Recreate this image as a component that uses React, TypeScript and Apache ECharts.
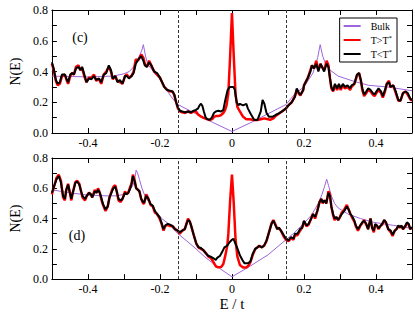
import React, { useEffect, useRef } from "react";
import * as echarts from "echarts";

// ---- Panel (c) data: [E, N(E)] ----
const bulkTop: number[][] = [
  [-0.5, 0.37], [-0.4, 0.365], [-0.33, 0.37], [-0.3, 0.385], [-0.285, 0.4], [-0.275, 0.425],
  [-0.265, 0.46], [-0.257, 0.5], [-0.25, 0.54], [-0.246, 0.575], [-0.24, 0.5], [-0.234, 0.45],
  [-0.225, 0.42], [-0.215, 0.39], [-0.2, 0.35], [-0.19, 0.31], [-0.18, 0.275], [-0.17, 0.24],
  [-0.16, 0.21], [-0.15, 0.185], [-0.125, 0.155], [-0.1, 0.125], [-0.05, 0.065], [0, 0.01],
  [0.05, 0.065], [0.1, 0.125], [0.15, 0.185], [0.175, 0.255], [0.2, 0.3], [0.225, 0.39],
  [0.238, 0.49], [0.245, 0.575], [0.252, 0.5], [0.26, 0.45], [0.272, 0.41], [0.295, 0.37],
  [0.34, 0.335], [0.38, 0.31], [0.43, 0.3], [0.5, 0.275],
];

const blackTop: number[][] = [
  [-0.5, 0.46], [-0.495, 0.42], [-0.489, 0.345], [-0.484, 0.32], [-0.478, 0.33], [-0.472, 0.38],
  [-0.464, 0.38], [-0.46, 0.355], [-0.455, 0.33], [-0.449, 0.38], [-0.444, 0.39], [-0.439, 0.38],
  [-0.433, 0.42], [-0.426, 0.43], [-0.421, 0.41], [-0.416, 0.43], [-0.41, 0.38], [-0.404, 0.33],
  [-0.397, 0.355], [-0.39, 0.35], [-0.383, 0.37], [-0.377, 0.345], [-0.369, 0.355], [-0.363, 0.33],
  [-0.356, 0.38], [-0.349, 0.39], [-0.342, 0.44], [-0.336, 0.41], [-0.331, 0.355], [-0.324, 0.37],
  [-0.318, 0.33], [-0.311, 0.345], [-0.304, 0.32], [-0.297, 0.37], [-0.292, 0.37], [-0.286, 0.355],
  [-0.279, 0.37], [-0.273, 0.39], [-0.267, 0.45], [-0.261, 0.475], [-0.252, 0.5], [-0.246, 0.47],
  [-0.242, 0.44], [-0.236, 0.43], [-0.23, 0.46], [-0.224, 0.44], [-0.216, 0.4], [-0.208, 0.39],
  [-0.2, 0.36], [-0.194, 0.33], [-0.188, 0.3], [-0.18, 0.28], [-0.172, 0.275], [-0.165, 0.27],
  [-0.16, 0.25], [-0.155, 0.2], [-0.15, 0.165], [-0.144, 0.145], [-0.138, 0.14], [-0.13, 0.135],
  [-0.122, 0.14], [-0.114, 0.135], [-0.106, 0.145], [-0.1, 0.15], [-0.094, 0.16], [-0.09, 0.18],
  [-0.086, 0.19], [-0.082, 0.175], [-0.078, 0.14], [-0.073, 0.1], [-0.068, 0.09], [-0.062, 0.085],
  [-0.056, 0.1], [-0.05, 0.13], [-0.045, 0.14], [-0.038, 0.145], [-0.03, 0.14], [-0.024, 0.15],
  [-0.018, 0.22], [-0.012, 0.28], [-0.006, 0.3], [0, 0.3], [0.004, 0.3], [0.008, 0.28],
  [0.013, 0.2], [0.018, 0.18], [0.022, 0.19], [0.031, 0.18], [0.04, 0.19], [0.044, 0.16],
  [0.053, 0.12], [0.062, 0.085], [0.071, 0.085], [0.08, 0.14], [0.085, 0.215], [0.09, 0.19],
  [0.096, 0.13], [0.103, 0.105], [0.112, 0.105], [0.121, 0.117], [0.13, 0.128], [0.139, 0.14],
  [0.15, 0.16], [0.157, 0.18], [0.166, 0.2], [0.175, 0.236], [0.18, 0.29], [0.186, 0.26],
  [0.19, 0.247], [0.198, 0.28], [0.2, 0.31], [0.211, 0.36], [0.218, 0.4], [0.222, 0.44],
  [0.228, 0.42], [0.234, 0.45], [0.24, 0.4], [0.246, 0.45], [0.25, 0.43], [0.256, 0.4],
  [0.263, 0.45], [0.268, 0.43], [0.272, 0.36], [0.276, 0.3], [0.281, 0.275], [0.286, 0.32],
  [0.292, 0.29], [0.297, 0.32], [0.302, 0.29], [0.308, 0.32], [0.314, 0.3], [0.321, 0.31],
  [0.328, 0.29], [0.332, 0.31], [0.34, 0.32], [0.347, 0.38], [0.353, 0.39], [0.358, 0.345],
  [0.362, 0.29], [0.367, 0.25], [0.373, 0.27], [0.378, 0.29], [0.385, 0.28], [0.391, 0.26],
  [0.396, 0.25], [0.401, 0.27], [0.407, 0.29], [0.414, 0.27], [0.419, 0.24], [0.425, 0.28],
  [0.43, 0.32], [0.436, 0.33], [0.44, 0.3], [0.448, 0.31], [0.455, 0.27], [0.462, 0.215],
  [0.468, 0.21], [0.475, 0.26], [0.482, 0.27], [0.488, 0.26], [0.495, 0.225], [0.5, 0.215],
];

const redTop: number[][] = [
  [-0.5, 0.45], [-0.495, 0.41], [-0.489, 0.34], [-0.484, 0.31], [-0.478, 0.32], [-0.472, 0.37],
  [-0.464, 0.38], [-0.46, 0.35], [-0.455, 0.32], [-0.449, 0.37], [-0.444, 0.39], [-0.439, 0.38],
  [-0.433, 0.43], [-0.426, 0.44], [-0.421, 0.41], [-0.416, 0.42], [-0.41, 0.37], [-0.404, 0.33],
  [-0.397, 0.36], [-0.39, 0.36], [-0.383, 0.38], [-0.377, 0.34], [-0.369, 0.35], [-0.363, 0.32],
  [-0.356, 0.38], [-0.349, 0.4], [-0.342, 0.43], [-0.336, 0.4], [-0.331, 0.35], [-0.324, 0.37],
  [-0.318, 0.34], [-0.311, 0.33], [-0.304, 0.32], [-0.297, 0.37], [-0.292, 0.38], [-0.286, 0.36],
  [-0.279, 0.37], [-0.273, 0.4], [-0.267, 0.48], [-0.261, 0.47], [-0.252, 0.51], [-0.246, 0.49],
  [-0.242, 0.45], [-0.236, 0.43], [-0.23, 0.47], [-0.224, 0.44], [-0.216, 0.4], [-0.208, 0.38],
  [-0.2, 0.36], [-0.194, 0.33], [-0.188, 0.3], [-0.18, 0.28], [-0.172, 0.27], [-0.165, 0.27],
  [-0.16, 0.245], [-0.155, 0.2], [-0.15, 0.16], [-0.144, 0.14], [-0.138, 0.135], [-0.13, 0.13],
  [-0.122, 0.14], [-0.114, 0.13], [-0.106, 0.14], [-0.1, 0.14], [-0.094, 0.12], [-0.088, 0.11],
  [-0.08, 0.1], [-0.07, 0.09], [-0.062, 0.085], [-0.055, 0.09], [-0.05, 0.105], [-0.045, 0.11],
  [-0.038, 0.11], [-0.031, 0.115], [-0.024, 0.13], [-0.019, 0.15], [-0.015, 0.18], [-0.01, 0.26],
  [-0.005, 0.5], [0, 0.78], [0.005, 0.5], [0.01, 0.25], [0.015, 0.17], [0.022, 0.14],
  [0.031, 0.105], [0.04, 0.09], [0.05, 0.09], [0.06, 0.085], [0.07, 0.085], [0.08, 0.09],
  [0.09, 0.095], [0.1, 0.09], [0.106, 0.085], [0.115, 0.095], [0.121, 0.11], [0.13, 0.125],
  [0.139, 0.14], [0.15, 0.16], [0.157, 0.18], [0.166, 0.2], [0.175, 0.24], [0.18, 0.28],
  [0.186, 0.255], [0.19, 0.245], [0.198, 0.28], [0.2, 0.31], [0.211, 0.36], [0.218, 0.41],
  [0.222, 0.44], [0.228, 0.42], [0.234, 0.47], [0.24, 0.41], [0.246, 0.45], [0.25, 0.43],
  [0.256, 0.41], [0.263, 0.47], [0.268, 0.44], [0.272, 0.36], [0.276, 0.29], [0.281, 0.27],
  [0.286, 0.31], [0.292, 0.28], [0.297, 0.31], [0.302, 0.28], [0.308, 0.31], [0.314, 0.29],
  [0.321, 0.3], [0.328, 0.28], [0.332, 0.3], [0.34, 0.32], [0.347, 0.37], [0.353, 0.39],
  [0.358, 0.34], [0.362, 0.28], [0.367, 0.24], [0.373, 0.26], [0.378, 0.28], [0.385, 0.27],
  [0.391, 0.25], [0.396, 0.24], [0.401, 0.26], [0.407, 0.28], [0.414, 0.26], [0.419, 0.23],
  [0.425, 0.27], [0.43, 0.32], [0.436, 0.34], [0.44, 0.3], [0.448, 0.31], [0.455, 0.26],
  [0.462, 0.21], [0.468, 0.21], [0.475, 0.26], [0.482, 0.27], [0.488, 0.25], [0.495, 0.22],
  [0.5, 0.21],
];

// ---- Panel (d) data: [E, N(E)] ----
const bulkBottom: number[][] = [
  [-0.5, 0.59], [-0.45, 0.57], [-0.4, 0.555], [-0.35, 0.55], [-0.32, 0.55], [-0.3, 0.56],
  [-0.285, 0.58], [-0.275, 0.62], [-0.27, 0.66], [-0.266, 0.72], [-0.262, 0.7], [-0.257, 0.66],
  [-0.25, 0.6], [-0.24, 0.54], [-0.225, 0.49], [-0.212, 0.45], [-0.195, 0.4], [-0.176, 0.365],
  [-0.15, 0.3], [-0.122, 0.245], [-0.1, 0.2], [-0.077, 0.15], [-0.041, 0.082], [0, 0.015],
  [0.05, 0.085], [0.1, 0.16], [0.15, 0.26], [0.175, 0.31], [0.2, 0.37], [0.22, 0.42],
  [0.24, 0.5], [0.25, 0.56], [0.257, 0.61], [0.263, 0.66], [0.268, 0.62], [0.276, 0.55],
  [0.285, 0.5], [0.295, 0.47], [0.322, 0.43], [0.357, 0.4], [0.394, 0.375], [0.448, 0.355],
  [0.5, 0.335],
];

const blackBottom: number[][] = [
  [-0.5, 0.57], [-0.493, 0.62], [-0.487, 0.66], [-0.481, 0.68], [-0.475, 0.64], [-0.469, 0.55],
  [-0.464, 0.53], [-0.46, 0.59], [-0.455, 0.625], [-0.451, 0.58], [-0.446, 0.53], [-0.442, 0.57],
  [-0.435, 0.635], [-0.43, 0.645], [-0.424, 0.625], [-0.419, 0.58], [-0.415, 0.55], [-0.408, 0.53],
  [-0.403, 0.55], [-0.397, 0.57], [-0.392, 0.56], [-0.388, 0.54], [-0.381, 0.58], [-0.376, 0.57],
  [-0.372, 0.59], [-0.367, 0.57], [-0.362, 0.53], [-0.358, 0.495], [-0.351, 0.46], [-0.345, 0.48],
  [-0.34, 0.54], [-0.333, 0.58], [-0.329, 0.6], [-0.324, 0.61], [-0.32, 0.58], [-0.315, 0.53],
  [-0.309, 0.52], [-0.304, 0.53], [-0.297, 0.57], [-0.293, 0.56], [-0.288, 0.57], [-0.284, 0.59],
  [-0.279, 0.625], [-0.275, 0.68], [-0.27, 0.645], [-0.266, 0.6], [-0.261, 0.59], [-0.257, 0.58],
  [-0.252, 0.53], [-0.247, 0.51], [-0.244, 0.505], [-0.238, 0.55], [-0.232, 0.53], [-0.226, 0.495],
  [-0.22, 0.485], [-0.214, 0.45], [-0.208, 0.43], [-0.201, 0.41], [-0.196, 0.375], [-0.19, 0.33],
  [-0.185, 0.355], [-0.178, 0.365], [-0.172, 0.36], [-0.165, 0.35], [-0.158, 0.33], [-0.151, 0.32],
  [-0.145, 0.31], [-0.138, 0.32], [-0.131, 0.33], [-0.126, 0.365], [-0.122, 0.39], [-0.117, 0.38],
  [-0.113, 0.35], [-0.106, 0.29], [-0.099, 0.235], [-0.093, 0.21], [-0.086, 0.205], [-0.079, 0.19],
  [-0.072, 0.17], [-0.066, 0.154], [-0.059, 0.148], [-0.051, 0.137], [-0.045, 0.126], [-0.041, 0.14],
  [-0.033, 0.154], [-0.027, 0.18], [-0.021, 0.21], [-0.014, 0.22], [-0.006, 0.245], [0, 0.26],
  [0.004, 0.267], [0.008, 0.245], [0.014, 0.21], [0.022, 0.158], [0.029, 0.126], [0.035, 0.104],
  [0.044, 0.104], [0.051, 0.115], [0.058, 0.17], [0.065, 0.2], [0.071, 0.21], [0.076, 0.22],
  [0.083, 0.21], [0.089, 0.22], [0.096, 0.256], [0.103, 0.31], [0.11, 0.365], [0.115, 0.386],
  [0.119, 0.365], [0.126, 0.33], [0.13, 0.34], [0.136, 0.32], [0.144, 0.29], [0.15, 0.267],
  [0.157, 0.256], [0.164, 0.278], [0.171, 0.267], [0.175, 0.3], [0.182, 0.3], [0.189, 0.33],
  [0.195, 0.34], [0.2, 0.386], [0.207, 0.354], [0.213, 0.365], [0.22, 0.4], [0.225, 0.43],
  [0.231, 0.41], [0.237, 0.45], [0.243, 0.505], [0.248, 0.53], [0.252, 0.505], [0.257, 0.52],
  [0.262, 0.5], [0.268, 0.57], [0.272, 0.55], [0.276, 0.48], [0.281, 0.43], [0.285, 0.4],
  [0.29, 0.41], [0.295, 0.39], [0.3, 0.41], [0.305, 0.43], [0.312, 0.45], [0.319, 0.48],
  [0.324, 0.46], [0.329, 0.43], [0.335, 0.41], [0.34, 0.386], [0.344, 0.354], [0.35, 0.33],
  [0.356, 0.354], [0.362, 0.375], [0.367, 0.386], [0.373, 0.364], [0.378, 0.33], [0.385, 0.4],
  [0.389, 0.34], [0.394, 0.32], [0.398, 0.364], [0.403, 0.354], [0.407, 0.336], [0.412, 0.35],
  [0.417, 0.364], [0.423, 0.39], [0.428, 0.375], [0.434, 0.33], [0.441, 0.32], [0.446, 0.293],
  [0.452, 0.32], [0.457, 0.33], [0.462, 0.354], [0.466, 0.343], [0.471, 0.354], [0.475, 0.33],
  [0.482, 0.354], [0.486, 0.375], [0.491, 0.364], [0.495, 0.33], [0.5, 0.343],
];

const redBottom: number[][] = [
  [-0.5, 0.56], [-0.493, 0.62], [-0.487, 0.67], [-0.481, 0.69], [-0.475, 0.65], [-0.469, 0.54],
  [-0.464, 0.52], [-0.46, 0.59], [-0.455, 0.63], [-0.451, 0.58], [-0.446, 0.52], [-0.442, 0.57],
  [-0.435, 0.64], [-0.43, 0.65], [-0.424, 0.63], [-0.419, 0.58], [-0.415, 0.54], [-0.408, 0.52],
  [-0.403, 0.55], [-0.397, 0.57], [-0.392, 0.56], [-0.388, 0.54], [-0.381, 0.59], [-0.376, 0.57],
  [-0.372, 0.6], [-0.367, 0.57], [-0.362, 0.52], [-0.358, 0.49], [-0.351, 0.45], [-0.345, 0.48],
  [-0.34, 0.54], [-0.333, 0.59], [-0.329, 0.61], [-0.324, 0.62], [-0.32, 0.58], [-0.315, 0.52],
  [-0.309, 0.51], [-0.304, 0.53], [-0.297, 0.58], [-0.293, 0.56], [-0.288, 0.57], [-0.284, 0.6],
  [-0.279, 0.63], [-0.275, 0.69], [-0.27, 0.65], [-0.266, 0.6], [-0.261, 0.59], [-0.257, 0.58],
  [-0.252, 0.53], [-0.247, 0.5], [-0.244, 0.5], [-0.238, 0.56], [-0.232, 0.53], [-0.226, 0.49],
  [-0.22, 0.48], [-0.214, 0.44], [-0.208, 0.43], [-0.201, 0.4], [-0.196, 0.37], [-0.19, 0.32],
  [-0.185, 0.35], [-0.178, 0.36], [-0.172, 0.35], [-0.165, 0.35], [-0.158, 0.33], [-0.151, 0.32],
  [-0.145, 0.3], [-0.138, 0.32], [-0.131, 0.33], [-0.126, 0.37], [-0.122, 0.4], [-0.117, 0.38],
  [-0.113, 0.35], [-0.106, 0.29], [-0.099, 0.235], [-0.093, 0.21], [-0.086, 0.2], [-0.079, 0.19],
  [-0.072, 0.17], [-0.066, 0.15], [-0.059, 0.14], [-0.051, 0.11], [-0.045, 0.085], [-0.038, 0.078],
  [-0.03, 0.08], [-0.024, 0.1], [-0.018, 0.16], [-0.013, 0.22], [-0.01, 0.3], [-0.005, 0.52],
  [0, 0.69], [0.005, 0.5], [0.01, 0.26], [0.015, 0.15], [0.022, 0.093], [0.031, 0.076],
  [0.04, 0.076], [0.047, 0.093], [0.051, 0.11], [0.058, 0.16], [0.065, 0.2], [0.071, 0.21],
  [0.076, 0.22], [0.083, 0.21], [0.089, 0.22], [0.096, 0.25], [0.103, 0.31], [0.11, 0.37],
  [0.115, 0.39], [0.119, 0.37], [0.126, 0.33], [0.13, 0.34], [0.136, 0.32], [0.144, 0.28],
  [0.15, 0.26], [0.157, 0.25], [0.164, 0.27], [0.171, 0.26], [0.175, 0.29], [0.182, 0.29],
  [0.189, 0.32], [0.195, 0.34], [0.2, 0.38], [0.207, 0.35], [0.213, 0.36], [0.22, 0.4],
  [0.225, 0.43], [0.231, 0.4], [0.237, 0.45], [0.243, 0.51], [0.248, 0.53], [0.252, 0.5],
  [0.257, 0.52], [0.262, 0.5], [0.268, 0.58], [0.272, 0.56], [0.276, 0.48], [0.281, 0.42],
  [0.285, 0.39], [0.29, 0.41], [0.295, 0.39], [0.3, 0.41], [0.305, 0.44], [0.312, 0.46],
  [0.319, 0.49], [0.324, 0.46], [0.329, 0.43], [0.335, 0.4], [0.34, 0.38], [0.344, 0.35],
  [0.35, 0.32], [0.356, 0.35], [0.362, 0.37], [0.367, 0.39], [0.373, 0.36], [0.378, 0.33],
  [0.385, 0.4], [0.389, 0.34], [0.394, 0.31], [0.398, 0.36], [0.403, 0.35], [0.407, 0.33],
  [0.412, 0.35], [0.417, 0.36], [0.423, 0.39], [0.428, 0.37], [0.434, 0.33], [0.441, 0.31],
  [0.446, 0.285], [0.452, 0.32], [0.457, 0.33], [0.462, 0.35], [0.466, 0.34], [0.471, 0.35],
  [0.475, 0.33], [0.482, 0.35], [0.486, 0.37], [0.491, 0.36], [0.495, 0.33], [0.5, 0.34],
];

const legendNames = ["Bulk", "T>T*", "T<T*"];
const dashedAt = [-0.15, 0.15];
const panelLabels = ["(c)", "(d)"];

const FONT = "'Liberation Serif', 'DejaVu Serif', serif";
const PURPLE = "#9b66d9";

const fmtX = (v: number) => {
  const k = Math.round(v * 10);
  if (k % 2 !== 0 || Math.abs(k) === 5) return "";
  return k === 0 ? "0" : (k / 10).toFixed(1);
};
const fmtY = (v: number) => {
  const k = Math.round(v * 10);
  if (k % 2 !== 0) return "";
  return (k / 10).toFixed(1);
};

export default function App() {
  const ref = useRef<HTMLDivElement>(null);
  useEffect(() => {
    if (!ref.current) return;
    const chart = echarts.init(ref.current, undefined, { renderer: "svg" });
    const grids = [
      { left: 43, width: 369.5, top: 10, height: 123 },
      { left: 43, width: 369.5, top: 158, height: 123 },
    ];
    const mkX = (gi: number, pos: "bottom" | "top", withLabels: boolean, name?: string) => ({
      type: "value",
      gridIndex: gi,
      position: pos,
      min: -0.5,
      max: 0.5,
      interval: 0.1,
      name: name || "",
      nameLocation: "middle",
      nameGap: 16,
      nameTextStyle: { fontFamily: FONT, fontSize: 15, color: "#000" },
      axisLine: { show: true, onZero: false, lineStyle: { color: "#000", width: 1 } },
      axisTick: { show: true, inside: true, length: 5, lineStyle: { color: "#000" } },
      axisLabel: {
        show: withLabels,
        formatter: fmtX,
        margin: 4,
        fontFamily: FONT,
        fontSize: 12,
        color: "#000",
      },
      splitLine: { show: false },
    });
    const mkY = (gi: number, pos: "left" | "right", withLabels: boolean) => ({
      type: "value",
      gridIndex: gi,
      position: pos,
      min: 0,
      max: 0.8,
      interval: 0.1,
      name: withLabels ? "N(E)" : "",
      nameLocation: "middle",
      nameGap: 24,
      nameRotate: 90,
      nameTextStyle: { fontFamily: FONT, fontSize: 14, color: "#000" },
      axisLine: { show: true, onZero: false, lineStyle: { color: "#000", width: 1 } },
      axisTick: { show: true, inside: true, length: 5, lineStyle: { color: "#000" } },
      axisLabel: {
        show: withLabels,
        formatter: fmtY,
        margin: 4,
        fontFamily: FONT,
        fontSize: 12,
        color: "#000",
      },
      splitLine: { show: false },
    });
    const mkSeries = (gi: number, bulk: number[][], red: number[][], black: number[][]) => [
      {
        name: legendNames[0],
        type: "line",
        xAxisIndex: gi,
        yAxisIndex: gi,
        data: bulk,
        symbol: "none",
        lineStyle: { color: PURPLE, width: 1 },
        itemStyle: { color: PURPLE },
        markLine: {
          silent: true,
          symbol: ["none", "none"],
          label: { show: false },
          lineStyle: { color: "#333", width: 1, type: [3, 2] },
          data: dashedAt.map((x) => ({ xAxis: x })),
        },
        z: 2,
      },
      {
        name: legendNames[1],
        type: "line",
        xAxisIndex: gi,
        yAxisIndex: gi,
        data: red,
        symbol: "none",
        lineStyle: { color: "#ff0000", width: 2.5 },
        itemStyle: { color: "#ff0000" },
        z: 3,
      },
      {
        name: legendNames[2],
        type: "line",
        xAxisIndex: gi,
        yAxisIndex: gi,
        data: black,
        symbol: "none",
        lineStyle: { color: "#000", width: 2 },
        itemStyle: { color: "#000" },
        z: 4,
      },
    ];
    chart.setOption({
      animation: false,
      backgroundColor: "#fff",
      grid: grids,
      xAxis: [
        mkX(0, "bottom", true),
        mkX(1, "bottom", true, "E / t"),
        mkX(0, "top", false),
        mkX(1, "top", false),
      ],
      yAxis: [mkY(0, "left", true), mkY(1, "left", true), mkY(0, "right", false), mkY(1, "right", false)],
      legend: {
        data: legendNames,
        orient: "vertical",
        right: 18,
        top: 18,
        padding: [2, 5, 2, 3],
        itemGap: 2,
        itemWidth: 17,
        itemHeight: 10,
        borderColor: "#000",
        borderWidth: 1,
        backgroundColor: "#fff",
        selectedMode: false,
        itemStyle: { opacity: 0, borderWidth: 0 },
        formatter: (n: string) => n.replace("*", "{sup|*}"),
        textStyle: {
          fontFamily: FONT,
          fontSize: 10,
          lineHeight: 12,
          color: "#000",
          padding: [0, 0, 0, 5],
          rich: {
            sup: { fontFamily: FONT, fontSize: 7, lineHeight: 7, verticalAlign: "top", color: "#000" },
          },
        },
      },
      graphic: [
        {
          type: "text",
          x: 80,
          y: 37,
          style: {
            text: panelLabels[0],
            font: `14px ${FONT}`,
            fill: "#000",
            align: "center",
            verticalAlign: "middle",
          },
        },
        {
          type: "text",
          x: 77,
          y: 235,
          style: {
            text: panelLabels[1],
            font: `14px ${FONT}`,
            fill: "#000",
            align: "center",
            verticalAlign: "middle",
          },
        },
      ],
      series: [
        ...mkSeries(0, bulkTop, redTop, blackTop),
        ...mkSeries(1, bulkBottom, redBottom, blackBottom),
      ],
    });
    return () => chart.dispose();
  }, []);
  return (
    <div
      ref={ref}
      style={{ position: "fixed", left: 0, top: 0, width: 415, height: 312, background: "#fff" }}
    />
  );
}
